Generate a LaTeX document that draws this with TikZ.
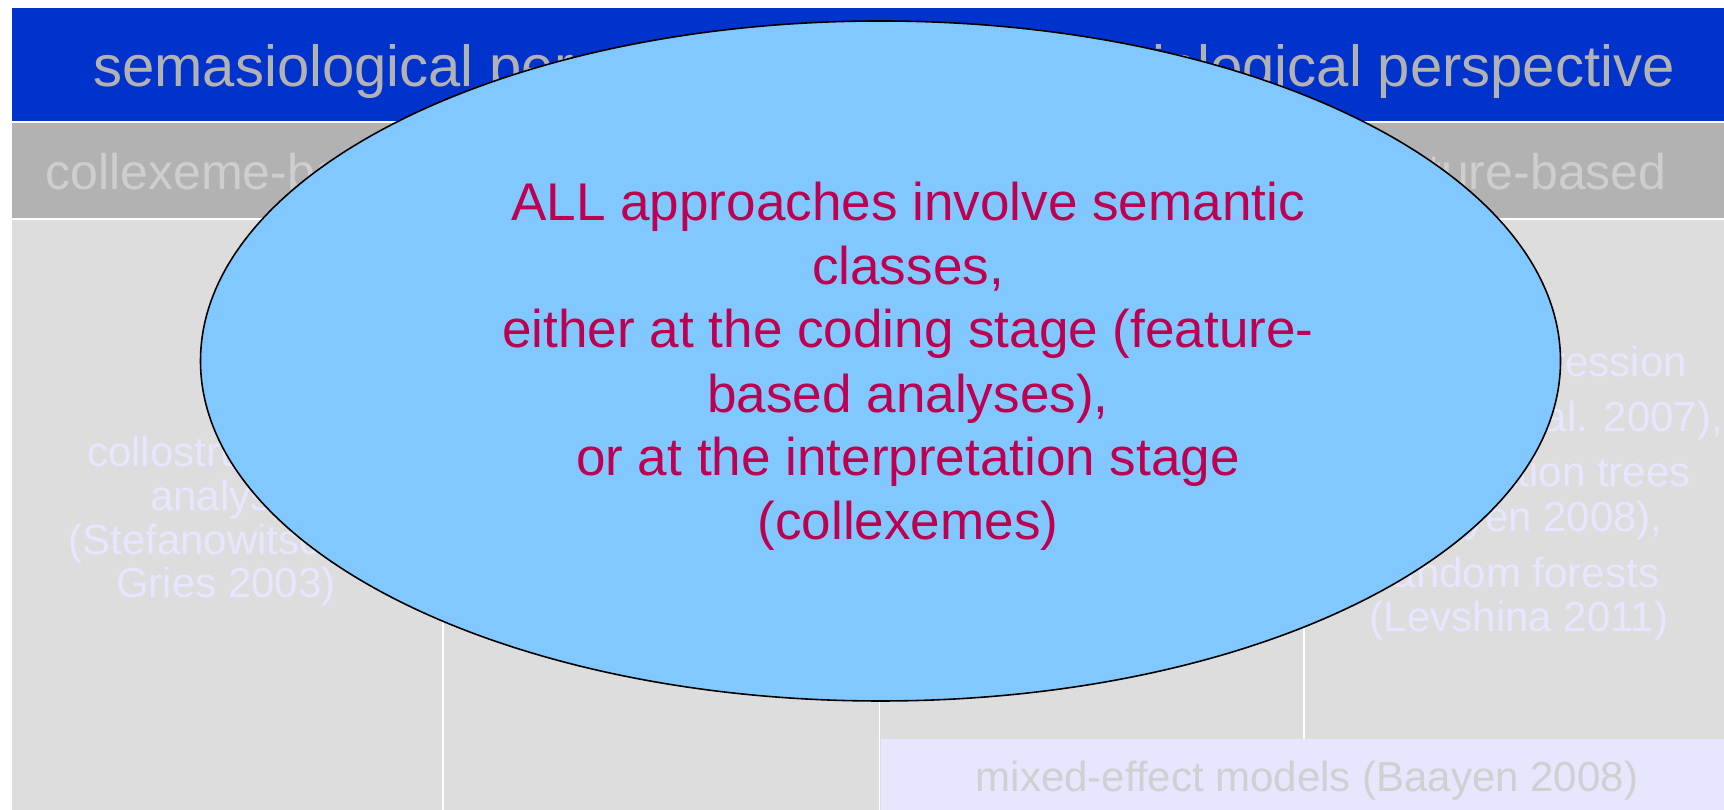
\documentclass[tikz,border=0pt]{standalone}
\usepackage{fontspec}
\setmainfont{Liberation Sans}
\definecolor{bandblue}{RGB}{0,51,204}
\definecolor{headgray}{RGB}{178,178,178}
\definecolor{bodygray}{RGB}{221,221,221}
\definecolor{titlegray}{RGB}{178,178,178}
\definecolor{headtext}{RGB}{206,206,206}
\definecolor{lilac}{RGB}{230,230,255}
\definecolor{boxtext}{RGB}{208,208,208}
\definecolor{bubblefill}{RGB}{128,200,255}
\definecolor{bubbletext}{RGB}{190,0,80}
\begin{document}
\begin{tikzpicture}[
    txt/.style={inner sep=0pt, anchor=base},
    big/.style={font=\fontsize{33}{40}\selectfont, text=titlegray},
    mid/.style={font=\fontsize{28.5}{34}\selectfont, text=headtext},
    small/.style={font=\fontsize{23.9}{29}\selectfont, text=lilac},
    bubble/.style={font=\fontsize{30.2}{36}\selectfont, text=bubbletext},
    sep/.style={white, line width=0.6pt}
]
    \useasboundingbox (0,0) rectangle (34.48,16.2);
    \fill[white] (0,0) rectangle (34.48,16.2);
    \fill[bandblue] (0.24,13.77) rectangle (34.48,16.04);
    \fill[headgray] (0.24,11.83) rectangle (34.48,13.74);
    \fill[bodygray] (0.24,0) rectangle (34.48,11.80);
    \fill[lilac] (17.61,0) rectangle (34.48,1.42);
    \draw[sep] (8.86,11.80) -- (8.86,0);
    \draw[sep] (17.59,11.80) -- (17.59,0);
    \draw[sep] (26.08,11.80) -- (26.08,1.42);

    \node[txt, big, anchor=base west] (sema) at (1.86,14.46) {semasiological perspective};
    \node[txt, big, anchor=base east] (onoma) at (33.50,14.46) {onomasiological perspective};
    \node[txt, mid, anchor=base west] (collex) at (0.90,12.40) {collexeme-based};
    \node[txt, mid, anchor=base east] (feature) at (33.34,12.40) {feature-based};

    \node[txt, small] (colla) at (4.52,6.87) {collostructional};
    \node[txt, small] (collb) at (4.52,5.99) {analysis};
    \node[txt, small] (collc) at (4.52,5.10) {(Stefanowitsch \&};
    \node[txt, small] (colld) at (4.52,4.24) {Gries 2003)};

    \node[txt, small] (feata) at (30.38,8.66) {logistic regression};
    \node[txt, small] (featb) at (30.38,7.56) {(Bresnan et al. 2007),};
    \node[txt, small] (featc) at (30.38,6.46) {classification trees};
    \node[txt, small] (featd) at (30.38,5.56) {(Baayen 2008),};
    \node[txt, small] (feate) at (30.38,4.44) {random forests};
    \node[txt, small] (featf) at (30.38,3.56) {(Levshina 2011)};

    \node[txt, small, text=boxtext] (mixed) at (26.14,0.37) {mixed-effect models (Baayen 2008)};

    \draw[black, line width=0.9pt, fill=bubblefill] (17.61,8.98) ellipse (13.6cm and 6.8cm);
    \node[txt, bubble] (alla) at (18.16,11.78) {ALL approaches involve semantic};
    \node[txt, bubble] (allb) at (18.16,10.50) {classes,};
    \node[txt, bubble] (allc) at (18.16,9.24) {either at the coding stage (feature-};
    \node[txt, bubble] (alld) at (18.16,7.94) {based analyses),};
    \node[txt, bubble] (alle) at (18.16,6.68) {or at the interpretation stage};
    \node[txt, bubble] (allf) at (18.16,5.40) {(collexemes)};
\end{tikzpicture}
\end{document}
